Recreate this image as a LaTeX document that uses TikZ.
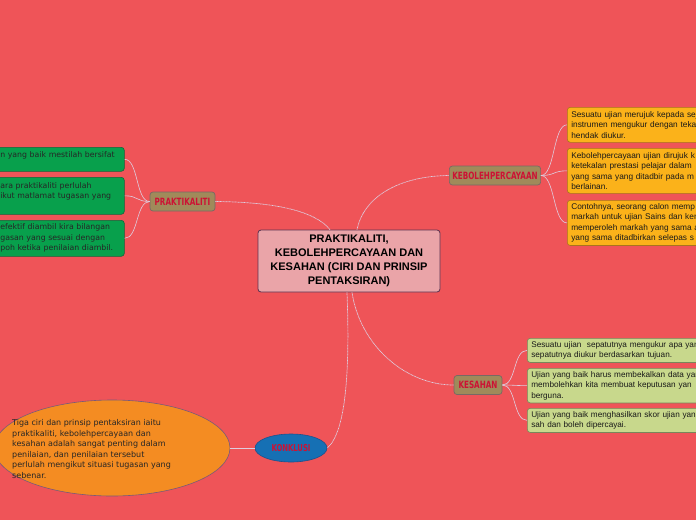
\documentclass[tikz,border=0pt]{standalone}
\usepackage{fontspec}
\setmainfont{Liberation Sans}
\newfontfamily\boxfont{DejaVu Sans}
\newfontfamily\branchfont{DejaVu Sans}[FakeStretch=0.72]
\usetikzlibrary{shapes.geometric}
\definecolor{bg}{RGB}{239,84,88}
\definecolor{centerfill}{RGB}{234,164,168}
\definecolor{centerborder}{RGB}{90,50,80}
\definecolor{branchfill}{RGB}{160,138,90}
\definecolor{branchborder}{RGB}{120,105,100}
\definecolor{branchtext}{RGB}{205,18,52}
\definecolor{konkfill}{RGB}{22,112,180}
\definecolor{konkborder}{RGB}{30,80,140}
\definecolor{dgreen}{RGB}{8,160,76}
\definecolor{dgreenborder}{RGB}{20,100,60}
\definecolor{orangebox}{RGB}{251,178,26}
\definecolor{orangeborder}{RGB}{170,115,30}
\definecolor{lgreen}{RGB}{200,216,140}
\definecolor{lgreenborder}{RGB}{120,135,90}
\definecolor{conclfill}{RGB}{244,140,34}
\definecolor{conclborder}{RGB}{120,90,120}
\definecolor{linkcol}{RGB}{222,205,222}
\begin{document}
\begin{tikzpicture}[x=1pt,y=-1pt,
  central/.style={draw=centerborder, fill=centerfill, rounded corners=3pt, line width=0.8pt,
    minimum width=182pt, minimum height=62pt, align=center, inner sep=0pt,
    font=\bfseries\fontsize{11}{14}\selectfont, text=black},
  branchnode/.style={draw=branchborder, fill=branchfill, rounded corners=3pt, line width=0.7pt,
    minimum height=19pt, inner xsep=3pt, inner ysep=0pt, text=branchtext,
    font=\branchfont\bfseries\fontsize{10}{10}\selectfont},
  leftleaf/.style={draw=dgreenborder, fill=dgreen, rounded corners=3pt, line width=0.6pt,
    anchor=north west, text width=120pt, align=left, inner xsep=4pt, inner ysep=3pt,
    text=black!85, font=\boxfont\fontsize{7.8}{10.5}\selectfont},
  orangeleaf/.style={draw=orangeborder, fill=orangebox, rounded corners=3pt, line width=0.6pt,
    anchor=north west, text width=200pt, align=left, inner xsep=4pt, inner ysep=3pt,
    text=black!90, font=\fontsize{8.3}{10.5}\selectfont},
  greenleaf/.style={draw=lgreenborder, fill=lgreen, rounded corners=3pt, line width=0.6pt,
    anchor=north west, text width=200pt, align=left, inner xsep=4pt, inner ysep=3pt,
    text=black!90, font=\fontsize{8.2}{10.5}\selectfont},
  link/.style={draw=linkcol, line width=0.7pt, dash pattern=on 1pt off 0.5pt},
  sublink/.style={draw=linkcol, line width=0.6pt}]
\useasboundingbox (0,0) rectangle (696,520);
\clip (0,0) rectangle (696,520);
\fill[bg] (0,0) rectangle (696,520);

% central
\node[central] (center) at (349,261) {PRAKTIKALITI,\\KEBOLEHPERCAYAAN DAN\\KESAHAN (CIRI DAN PRINSIP\\PENTAKSIRAN)};

% branches
\node[branchnode, minimum width=65pt] (prak) at (182.5,201.5) {PRAKTIKALITI};
\node[branchnode, minimum width=90pt] (keb) at (495,175.5) {KEBOLEHPERCAYAAN};
\node[branchnode, minimum width=48pt] (kes) at (478,385) {KESAHAN};
\node[ellipse, draw=konkborder, fill=konkfill, line width=0.6pt, minimum width=72pt, minimum height=28pt,
  inner sep=0pt, text=branchtext, font=\branchfont\bfseries\fontsize{9.5}{9.5}\selectfont] (konk) at (291,448) {KONKLUSI};

% left leaves
\node[leftleaf, minimum height=24pt] (l1) at (-4,147) {\mbox{n yang baik mestilah bersifat}\\~};
\node[leftleaf, minimum height=37pt] (l2) at (-4,177) {\mbox{ara praktikaliti perlulah}\\\mbox{ikut matlamat tugasan yang}\\~};
\node[leftleaf, minimum height=36pt] (l3) at (-4,220) {\mbox{efektif diambil kira bilangan}\\\mbox{gasan yang sesuai dengan}\\\mbox{poh ketika penilaian diambil.}};

% orange leaves
\node[orangeleaf, minimum height=35pt] (o1) at (567,107) {Sesuatu ujian merujuk kepada sej\\instrumen mengukur dengan teka\\hendak diukur.};
\node[orangeleaf, minimum height=45pt] (o2) at (567,148) {Kebolehpercayaan ujian dirujuk k\\ketekalan prestasi pelajar dalam\\yang sama yang ditadbir pada m\\berlainan.};
\node[orangeleaf, minimum height=44pt] (o3) at (567,200) {Contohnya, seorang calon memp\\markah untuk ujian Sains dan ken\\memperoleh markah yang sama a\\yang sama ditadbirkan selepas s};

% light green leaves
\node[greenleaf, minimum height=24pt] (g1) at (527,338) {Sesuatu ujian\ \ sepatutnya mengukur apa yan\\sepatutnya diukur berdasarkan tujuan.};
\node[greenleaf, minimum height=34pt] (g2) at (527,368) {Ujian yang baik harus membekalkan data yan\\membolehkan kita membuat keputusan yan\\berguna.};
\node[greenleaf, minimum height=24pt] (g3) at (527,408) {Ujian yang baik menghasilkan skor ujian yang\\sah dan boleh dipercayai.};

% conclusion
\node[ellipse, draw=conclborder, fill=conclfill, line width=0.6pt, minimum width=236pt, minimum height=96pt] (concl) at (112,448) {};
\node[anchor=west, align=left, inner sep=0pt, text=black!85, font=\boxfont\fontsize{8}{10.5}\selectfont] (concltext) at (12,449)
  {Tiga ciri dan prinsip pentaksiran iaitu\\praktikaliti, kebolehpercayaan dan\\kesahan adalah sangat penting dalam\\penilaian, dan penilaian tersebut\\perlulah mengikut situasi tugasan yang\\sebenar.};

% main connectors
\draw[link] ([xshift=-19pt]center.north) .. controls (315,211) and (275,202) .. (prak.east);
\draw[link] ([xshift=8pt]center.north) .. controls (364,196) and (400,176) .. (keb.west);
\draw[link] ([xshift=3pt]center.south) .. controls (360,345) and (405,385) .. (kes.west);
\draw[link] ([xshift=-2pt]center.south) .. controls (350,370) and (346,432) .. (konk.east);
\draw[sublink] (konk.west) -- (concl.east);

% sub connectors
\foreach \t in {l1,l2,l3}
  \draw[sublink] (prak.west) .. controls +(-14,0) and +(14,0) .. (\t.east);
\foreach \t in {o1,o2,o3}
  \draw[sublink] (keb.east) .. controls +(14,0) and +(-14,0) .. (\t.west);
\foreach \t in {g1,g2,g3}
  \draw[sublink] (kes.east) .. controls +(14,0) and +(-14,0) .. (\t.west);
\end{tikzpicture}
\end{document}
